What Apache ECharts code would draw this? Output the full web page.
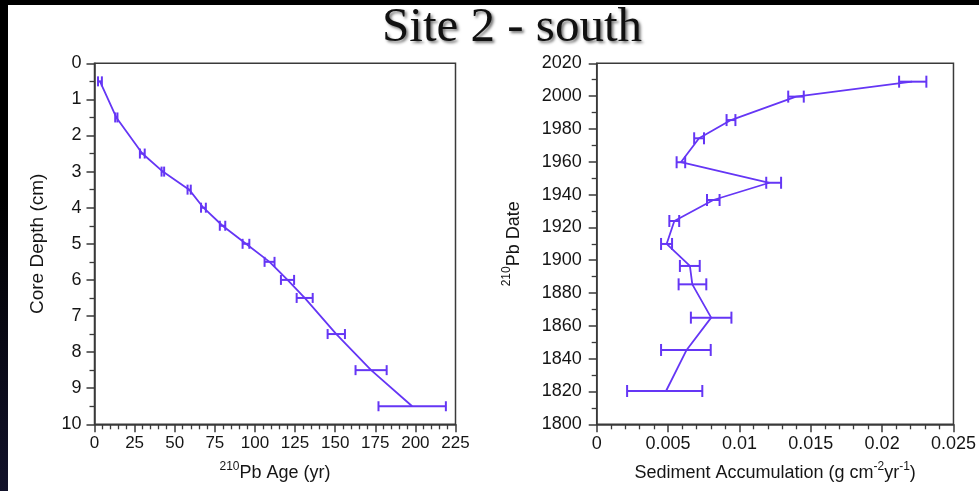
<!DOCTYPE html>
<html>
<head>
<meta charset="utf-8">
<script src="https://cdn.jsdelivr.net/npm/echarts@6/dist/echarts.min.js"></script>
<style>
html,body{margin:0;padding:0;background:#000;}
#wrap{position:relative;width:979px;height:491px;overflow:hidden;background:#000;}
#leftband{position:absolute;left:0;top:0;width:8px;height:491px;background:linear-gradient(#000,#000 40%,#12122a);}
#paper{position:absolute;left:8px;top:5px;width:971px;height:486px;background:#fff;}
#chart{position:absolute;left:0;top:0;width:979px;height:491px;}
</style>
</head>
<body>
<div id="wrap"><div id="leftband"></div><div id="paper"></div><div id="chart"></div></div>
<script>
// ---- Left panel: 210Pb age vs core depth ----
const depths = [0.5, 1.5, 2.5, 3.0, 3.5, 4.0, 4.5, 5.0, 5.5, 6.0, 6.5, 7.5, 8.5, 9.5];
const ages   = [3.4, 13.6, 29.8, 42.6, 59.0, 67.9, 79.8, 94.4, 109.1, 120.3, 131.0, 150.7, 172.4, 198.0];
const ageErr = [1.2, 0.7, 1.5, 0.8, 1.0, 1.5, 1.7, 2.1, 3.1, 4.1, 5.0, 5.4, 9.7, 21.0];
const ageTicks = [0, 25, 50, 75, 100, 125, 150, 175, 200, 225];
const depthTicks = [0, 1, 2, 3, 4, 5, 6, 7, 8, 9, 10];

// ---- Right panel: 210Pb date vs sediment accumulation ----
const dates  = [2008.8, 1999.7, 1985.4, 1974.3, 1959.7, 1947.2, 1936.7, 1923.9, 1909.9, 1896.5, 1885.3, 1865.0, 1845.3, 1820.3];
const accum  = [0.0221, 0.01397, 0.00941, 0.00717, 0.0059, 0.0121, 0.00817, 0.00544, 0.0049, 0.00653, 0.0067, 0.00802, 0.0063, 0.00486];
const accLo  = [0.02119, 0.01342, 0.00910, 0.00683, 0.00560, 0.01188, 0.00773, 0.00509, 0.00451, 0.00583, 0.00574, 0.00660, 0.00451, 0.00213];
const accHi  = [0.02310, 0.01451, 0.00972, 0.00752, 0.00620, 0.01292, 0.00861, 0.00578, 0.00528, 0.00722, 0.00768, 0.00944, 0.00799, 0.00740];
const dateTicks = [1800, 1820, 1840, 1860, 1880, 1900, 1920, 1940, 1960, 1980, 2000, 2020];
const accTicks = ['0', '0.005', '0.01', '0.015', '0.02', '0.025'];

const titleText = 'Site 2 - south';
const COLOR = '#6536f5';
const AXC = '#3a3a3a';
const FONT = "'Liberation Sans', Arial, sans-serif";

const chart = echarts.init(document.getElementById('chart'), null, {renderer: 'canvas'});

function errRender(cap) {
  return function (params, api) {
    const a = api.coord([api.value(0), api.value(2)]);
    const b = api.coord([api.value(1), api.value(2)]);
    const st = {stroke: COLOR, lineWidth: 2, fill: null};
    return {type: 'group', children: [
      {type: 'line', shape: {x1: a[0], y1: a[1], x2: b[0], y2: b[1]}, style: st},
      {type: 'line', shape: {x1: a[0], y1: a[1] - cap, x2: a[0], y2: a[1] + cap}, style: st},
      {type: 'line', shape: {x1: b[0], y1: b[1] - cap, x2: b[0], y2: b[1] + cap}, style: st}
    ]};
  };
}

const axisLine = {show: true, onZero: false, lineStyle: {color: AXC, width: 1.5}};
const axisTick = {show: true, length: 8, lineStyle: {color: AXC, width: 1.5}};
const minorTick = n => ({show: true, splitNumber: n, length: 5, lineStyle: {color: AXC, width: 1.3}});
const lbl = (size, margin) => ({color: '#151515', fontFamily: FONT, fontSize: size, margin: margin});
const richName = {
  n: {fontSize: 18, fontFamily: FONT, color: '#151515', lineHeight: 22, verticalAlign: 'bottom'},
  s: {fontSize: 12, fontFamily: FONT, color: '#151515', lineHeight: 13, verticalAlign: 'top'}
};

const option = {
  animation: false,
  backgroundColor: 'transparent',
  title: {
    text: titleText,
    left: 507, top: -1, textAlign: 'center',
    textStyle: {fontFamily: "'Liberation Serif', 'DejaVu Serif', serif", fontWeight: 'normal', fontSize: 49, color: '#111',
      textShadowColor: 'rgba(0,0,0,0.55)', textShadowBlur: 3, textShadowOffsetX: 2, textShadowOffsetY: 2}
  },
  grid: [
    {left: 94.5, right: 523.5, top: 63.3, bottom: 66.7, show: true, borderColor: AXC, borderWidth: 1.5, backgroundColor: 'transparent'},
    {left: 596.7, right: 22.3, top: 63.3, bottom: 66.7, show: true, borderColor: AXC, borderWidth: 1.5, backgroundColor: 'transparent'}
  ],
  xAxis: [
    {gridIndex: 0, type: 'value', min: ageTicks[0], max: ageTicks[ageTicks.length - 1], interval: 25,
      axisLine, axisTick, minorTick: minorTick(5), splitLine: {show: false},
      axisLabel: lbl(17, 11),
      name: '{s|210}{n|Pb Age (yr)}', nameLocation: 'middle', nameGap: 36, nameTextStyle: {rich: richName}},
    {gridIndex: 1, type: 'value', min: 0, max: 0.025, interval: 0.005,
      axisLine, axisTick, minorTick: minorTick(5), splitLine: {show: false},
      axisLabel: Object.assign(lbl(18, 11), {formatter: (v) => accTicks[Math.round(v / 0.005)]}),
      name: '{n|Sediment Accumulation (g cm}{s|-2}{n|yr}{s|-1}{n|)}', nameLocation: 'middle', nameGap: 36, nameTextStyle: {rich: richName}}
  ],
  yAxis: [
    {gridIndex: 0, type: 'value', inverse: true, min: depthTicks[0], max: depthTicks[depthTicks.length - 1], interval: 1,
      axisLine, axisTick, minorTick: minorTick(2), splitLine: {show: false},
      axisLabel: Object.assign(lbl(18, 13), {formatter: (v) => String(depthTicks[Math.round(v)])}),
      name: 'Core Depth (cm)', nameLocation: 'middle', nameGap: 47, nameRotate: 90,
      nameTextStyle: {fontFamily: FONT, fontSize: 19, color: '#151515'}},
    {gridIndex: 1, type: 'value', min: dateTicks[0], max: dateTicks[dateTicks.length - 1], interval: 20,
      axisLine, axisTick, minorTick: minorTick(2), splitLine: {show: false},
      axisLabel: Object.assign(lbl(18, 15), {formatter: (v) => String(dateTicks[Math.round((v - 1800) / 20)])}),
      name: '{s|210}{n|Pb Date}', nameLocation: 'middle', nameGap: 74, nameRotate: 90, nameTextStyle: {rich: richName}}
  ],
  series: [
    {type: 'line', xAxisIndex: 0, yAxisIndex: 0, data: ages.map((a, i) => [a, depths[i]]),
      showSymbol: false, symbol: 'none', lineStyle: {color: COLOR, width: 1.8}, z: 3},
    {type: 'custom', xAxisIndex: 0, yAxisIndex: 0, renderItem: errRender(5),
      data: ages.map((a, i) => [a - ageErr[i], a + ageErr[i], depths[i]]), encode: {x: [0, 1], y: 2}, z: 4},
    {type: 'line', xAxisIndex: 1, yAxisIndex: 1, data: accum.map((a, i) => [a, dates[i]]),
      showSymbol: false, symbol: 'none', lineStyle: {color: COLOR, width: 1.8}, z: 3},
    {type: 'custom', xAxisIndex: 1, yAxisIndex: 1, renderItem: errRender(6),
      data: accum.map((a, i) => [accLo[i], accHi[i], dates[i]]), encode: {x: [0, 1], y: 2}, z: 4}
  ]
};
chart.setOption(option);
</script>
</body>
</html>
